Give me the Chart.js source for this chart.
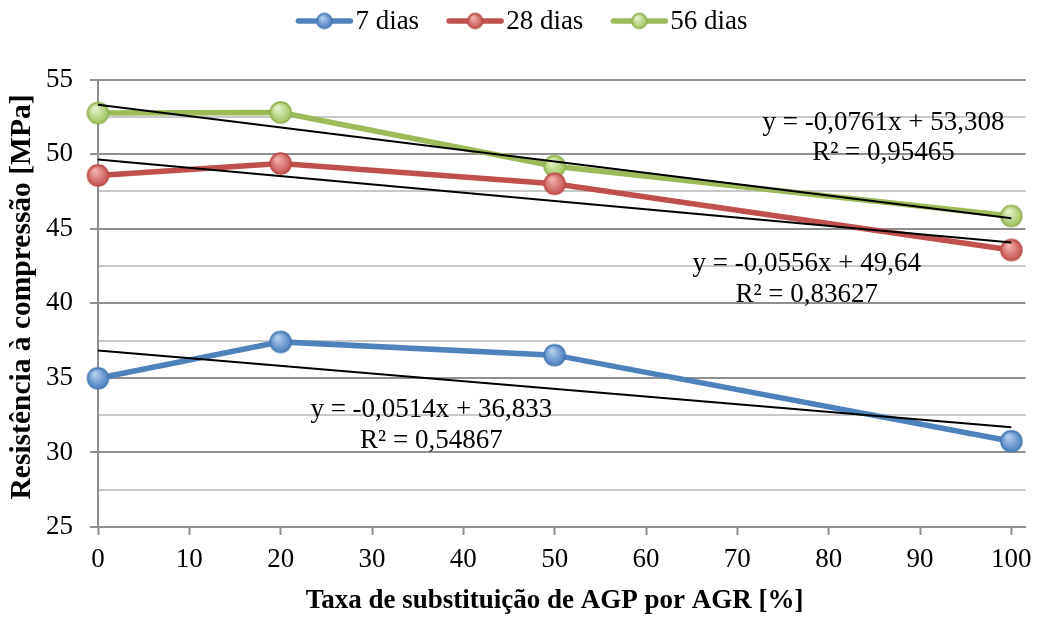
<!DOCTYPE html>
<html lang="pt">
<head>
<meta charset="utf-8">
<title>Resistência à compressão</title>
<script src="https://cdn.jsdelivr.net/npm/chart.js@4.4.1/dist/chart.umd.min.js"></script>
<style>
  html, body { margin: 0; padding: 0; background: #ffffff; }
  #grafico { display: block; }
</style>
</head>
<body>
<canvas id="grafico" width="1042" height="617"></canvas>
<script>
// Taxa de substituição (%) e resistências médias por idade de ensaio
const taxas = [0, 20, 50, 100];
const idades = ['7 dias', '28 dias', '56 dias'];
const res7 = [34.97, 37.41, 36.52, 30.75];
const res28 = [48.57, 49.37, 48.01, 43.57];
const res56 = [52.75, 52.79, 49.19, 45.85];

// Linhas de tendência lineares (y = a·x + b) e coeficientes R²
const inclinacoes = [-0.0514, -0.0556, -0.0761];
const intercepcoes = [36.833, 49.64, 53.308];
const coefR2 = [0.54867, 0.83627, 0.95465];

// Marcas dos eixos
const ticksX = [0, 10, 20, 30, 40, 50, 60, 70, 80, 90, 100];
const ticksY = [25, 30, 35, 40, 45, 50, 55];

const tituloX = 'Taxa de substituição de AGP por AGR [%]';
const tituloY = 'Resistência à compressão [MPa]';

// ---- estilo ----
const FONTE = 'Liberation Serif';
const cores = [
  { linha: '#4f81bd', claro: '#b3cdf0', escuro: '#4a7cc0', borda: '#4677b3' },
  { linha: '#c0504d', claro: '#f4b0ae', escuro: '#c4504c', borda: '#b84a47' },
  { linha: '#9bbb59', claro: '#e6f3c8', escuro: '#9dc25a', borda: '#8daf4d' }
];
// posição (em unidades dos eixos) do centro da equação de cada tendência
const posRotulos = [
  { x: 36.5, y: 32.84 },
  { x: 77.6, y: 42.63 },
  { x: 86.0, y: 52.12 }
];

function marcador(c, r) {
  const cv = document.createElement('canvas');
  const s = Math.ceil(2 * r + 4);
  cv.width = s; cv.height = s;
  const g = cv.getContext('2d');
  const cx = s / 2, cy = s / 2;
  const grad = g.createRadialGradient(cx - r * 0.3, cy - r * 0.45, r * 0.1, cx, cy, r * 1.05);
  grad.addColorStop(0, c.claro);
  grad.addColorStop(1, c.escuro);
  g.beginPath();
  g.arc(cx, cy, r, 0, Math.PI * 2);
  g.fillStyle = grad;
  g.fill();
  g.lineWidth = 1.5;
  g.strokeStyle = c.borda;
  g.stroke();
  return cv;
}

const marcadoresSerie = cores.map(c => marcador(c, 10.5));
const marcadoresLegenda = cores.map(c => marcador(c, 7.5));

const series = [res7, res28, res56];

const datasetsSeries = series.map((vals, i) => ({
  label: idades[i],
  serie: i,
  data: taxas.map((t, j) => ({ x: t, y: vals[j] })),
  borderColor: cores[i].linha,
  borderWidth: 5.5,
  pointStyle: marcadoresSerie[i],
  pointRadius: 11,
  pointHoverRadius: 11,
  tension: 0,
  clip: false,
  order: 1
}));

const datasetsTendencia = inclinacoes.map((a, i) => ({
  label: 'tendência ' + idades[i],
  tendencia: true,
  data: [
    { x: taxas[0], y: intercepcoes[i] + a * taxas[0] },
    { x: taxas[taxas.length - 1], y: intercepcoes[i] + a * taxas[taxas.length - 1] }
  ],
  borderColor: '#000000',
  borderWidth: 2,
  pointRadius: 0,
  clip: false,
  order: 0
}));

const fmt = v => String(v).replace('.', ',');

// Legenda: traço com marcador seguido do nome da série
const legendaSeries = {
  id: 'legendaSeries',
  afterDraw(chart, args, o) {
    const ctx = chart.ctx;
    ctx.save();
    ctx.font = `${o.tamanho}px "${FONTE}"`;
    const itens = chart.data.datasets.filter(d => !d.tendencia);
    const larg = itens.map(d => o.linha + o.espaco + ctx.measureText(d.label).width);
    const total = larg.reduce((s, v) => s + v, 0) + o.entre * (itens.length - 1);
    let x = o.centroX - total / 2;
    const y = o.y;
    itens.forEach((d, k) => {
      ctx.strokeStyle = d.borderColor;
      ctx.lineWidth = d.borderWidth;
      ctx.lineCap = 'round';
      ctx.beginPath();
      ctx.moveTo(x + 2, y);
      ctx.lineTo(x + o.linha - 2, y);
      ctx.stroke();
      const img = marcadoresLegenda[d.serie];
      ctx.drawImage(img, x + o.linha / 2 - img.width / 2, y - img.height / 2);
      ctx.fillStyle = '#000';
      ctx.textAlign = 'left';
      ctx.textBaseline = 'middle';
      ctx.fillText(d.label, x + o.linha + o.espaco, y + 1);
      x += larg[k] + o.entre;
    });
    ctx.restore();
  }
};

// Equações e R² das linhas de tendência
const rotulosTendencia = {
  id: 'rotulosTendencia',
  afterDraw(chart, args, o) {
    const ctx = chart.ctx;
    const sx = chart.scales.x, sy = chart.scales.y;
    ctx.save();
    ctx.font = `${o.tamanho}px "${FONTE}"`;
    ctx.fillStyle = '#000';
    ctx.textAlign = 'center';
    ctx.textBaseline = 'middle';
    inclinacoes.forEach((a, i) => {
      const px = sx.getPixelForValue(posRotulos[i].x);
      const py = sy.getPixelForValue(posRotulos[i].y);
      ctx.fillText(`y = ${fmt(a)}x + ${fmt(intercepcoes[i])}`, px, py);
      ctx.fillText(`R² = ${fmt(coefR2[i])}`, px, py + o.entreLinhas);
    });
    ctx.restore();
  }
};

// Títulos dos eixos
const titulosEixos = {
  id: 'titulosEixos',
  afterDraw(chart, args, o) {
    const ctx = chart.ctx;
    const sx = chart.scales.x;
    ctx.save();
    ctx.fillStyle = '#000';
    ctx.textAlign = 'center';
    ctx.textBaseline = 'middle';
    ctx.font = `bold ${o.tamanhoX}px "${FONTE}"`;
    ctx.fillText(tituloX, sx.getPixelForValue(50), o.yX);
    ctx.font = `bold ${o.tamanhoY}px "${FONTE}"`;
    ctx.translate(o.xY, o.yY);
    ctx.rotate(-Math.PI / 2);
    ctx.fillText(tituloY, 0, 0);
    ctx.restore();
  }
};

const cinzaPrincipal = '#8f8f8f';
const cinzaSecundario = '#c8c8c8';

new Chart(document.getElementById('grafico'), {
  type: 'line',
  data: { datasets: [...datasetsTendencia, ...datasetsSeries] },
  options: {
    responsive: false,
    animation: false,
    events: [],
    layout: { padding: { top: 79.5, right: 10, bottom: 0, left: 0 } },
    plugins: {
      legend: { display: false },
      tooltip: { enabled: false },
      legendaSeries: { tamanho: 27, linha: 56, espaco: 3, entre: 28, centroX: 522, y: 21 },
      rotulosTendencia: { tamanho: 27, entreLinhas: 30.5 },
      titulosEixos: { tamanhoX: 27, tamanhoY: 29.5, yX: 601, xY: 22, yY: 297 }
    },
    scales: {
      x: {
        type: 'linear',
        min: 0,
        max: 101.55,
        afterBuildTicks(s) { s.ticks = ticksX.map(v => ({ value: v })); },
        afterFit(s) { s.height = 90; s.paddingLeft = 0; s.paddingRight = 0; },
        grid: { drawOnChartArea: false, drawTicks: true, tickLength: 8, tickColor: cinzaPrincipal, tickWidth: 2 },
        border: { color: cinzaPrincipal, width: 2 },
        ticks: {
          font: { family: FONTE, size: 27 },
          color: '#000',
          padding: 9,
          maxRotation: 0,
          autoSkip: false,
          callback: v => String(v)
        }
      },
      y: {
        type: 'linear',
        min: 25,
        max: 55,
        afterBuildTicks(s) {
          const t = [];
          ticksY.forEach((v, k) => {
            t.push({ value: v, principal: true });
            if (k < ticksY.length - 1) t.push({ value: (v + ticksY[k + 1]) / 2, principal: false });
          });
          s.ticks = t;
        },
        afterFit(s) { s.width = 98; s.paddingTop = 0; s.paddingBottom = 0; },
        grid: {
          color: c => (c.tick && c.tick.principal ? cinzaPrincipal : cinzaSecundario),
          lineWidth: 2,
          drawTicks: true,
          tickLength: 8,
          tickWidth: 2,
          tickColor: c => (c.tick && c.tick.principal ? cinzaPrincipal : 'rgba(0,0,0,0)')
        },
        border: { color: cinzaPrincipal, width: 2 },
        ticks: {
          font: { family: FONTE, size: 27 },
          color: '#000',
          padding: 17,
          autoSkip: false,
          callback: (v, i, arr) => (arr[i].principal ? String(v) : '')
        }
      }
    }
  },
  plugins: [legendaSeries, rotulosTendencia, titulosEixos]
});
</script>
</body>
</html>
